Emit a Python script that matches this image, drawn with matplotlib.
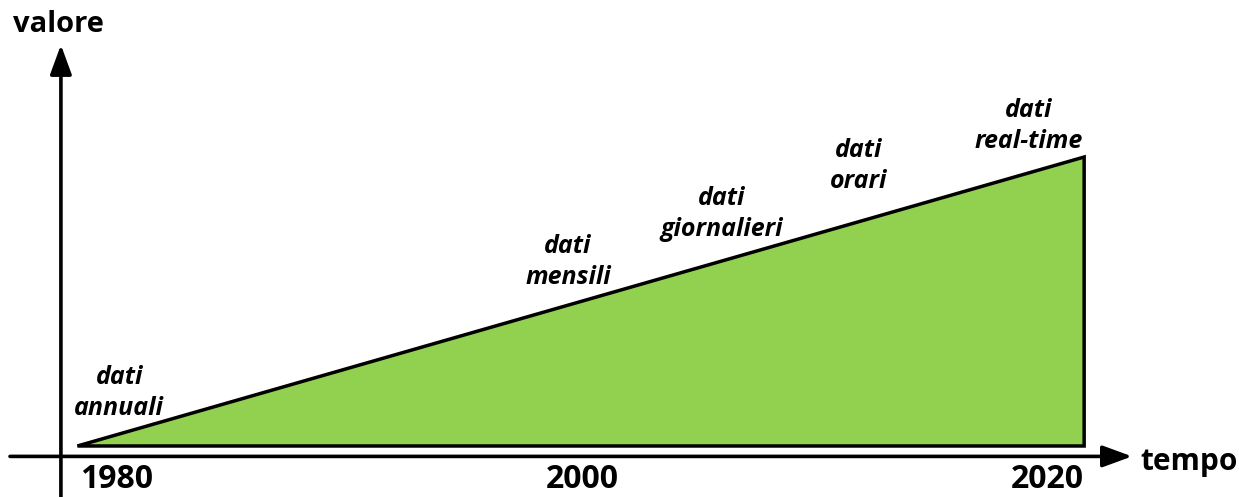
import matplotlib
matplotlib.use("Agg")
import matplotlib.pyplot as plt

# data: growth of data frequency over time
anni = [1978.3, 2021.6]          # start / end of the green wedge
valore = [0, 100]
tick_anni = [1980, 2000, 2020]
tick_labels = ["1980", "2000", "2020"]
etichette = ["dati\nannuali", "dati\nmensili", "dati\ngiornalieri",
             "dati\norari", "dati\nreal-time"]
etichette_x = [1980.1, 1999.4, 2006.0, 2011.9, 2019.2]
etichette_y = [18.3, 63.7, 80.3, 96.9, 110.7]

plt.rcParams['font.family'] = ['Open Sans', 'DejaVu Sans']

fig = plt.figure(figsize=(12.39, 4.97), dpi=100)
ax = fig.add_axes([0, 0, 1, 1])
ax.set_xlim(1974.97, 2028.26)
ax.set_ylim(-17.65, 154.33)
ax.axis('off')

# green wedge
ax.fill([anni[0], anni[1], anni[1]], [valore[0], valore[1], valore[0]],
        facecolor='#92D050', edgecolor='black', linewidth=2.5,
        joinstyle='miter')

# axes with arrows
arrow = dict(arrowstyle='-|>,head_length=0.9,head_width=0.33', lw=2.6,
             color='black', shrinkA=0, shrinkB=0, mutation_scale=20)
ax.annotate('', xy=(1977.59, 138.8), xytext=(1977.59, -17.65), arrowprops=arrow)
ax.annotate('', xy=(2023.66, -3.6), xytext=(1975.4, -3.6), arrowprops=arrow)

ax.text(1977.5, 145.7, "valore", fontsize=21, fontweight='bold',
        ha='center', va='center')
ax.text(2024.0, -5.6, "tempo", fontsize=21.5, fontweight='bold',
        ha='left', va='center')

for x, lab in zip(tick_anni, tick_labels):
    ax.text(x, -11.6, lab, fontsize=23, fontweight='bold',
            ha='center', va='center')

for x, y, lab in zip(etichette_x, etichette_y, etichette):
    ax.text(x, y, lab, fontsize=18, fontweight='bold', fontstyle='italic',
            ha='center', va='center', multialignment='center',
            linespacing=1.35)

fig.savefig('out.png', dpi=100)
